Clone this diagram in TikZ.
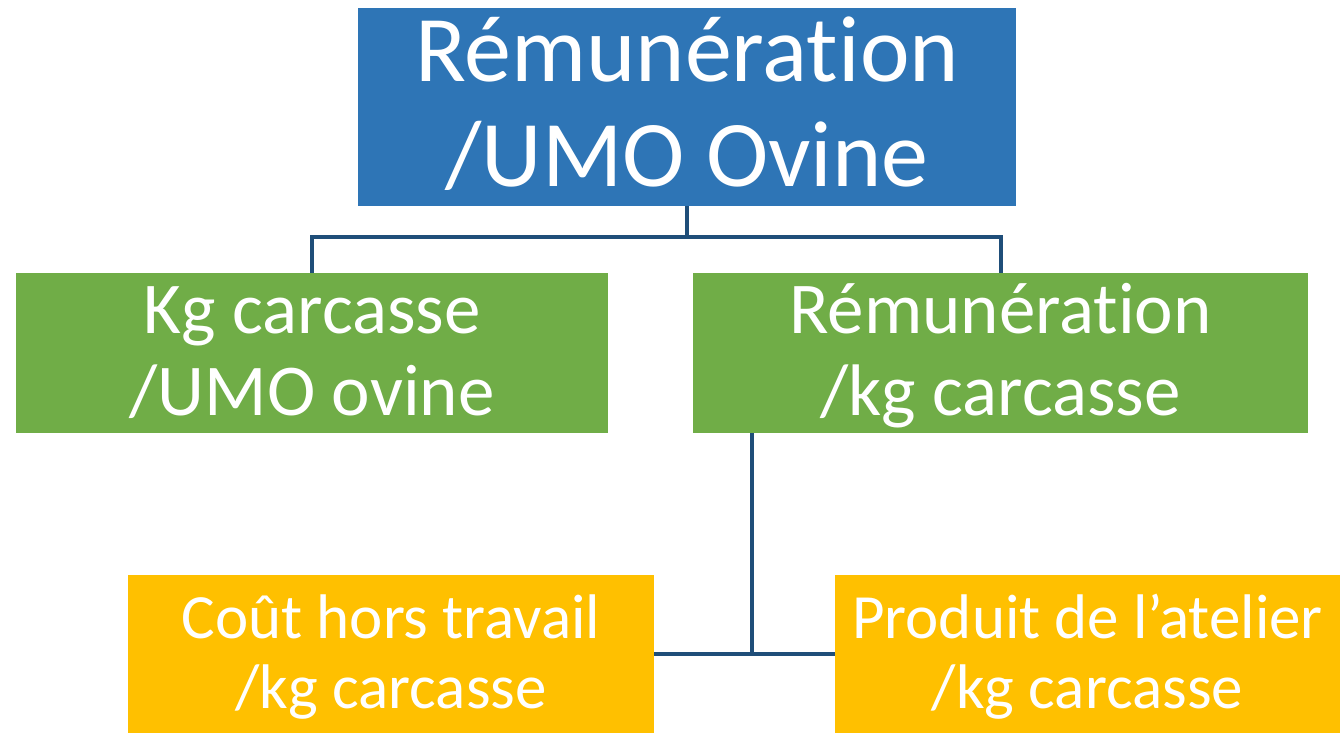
\documentclass[tikz,border=0pt]{standalone}
\usepackage{fontspec}
\setmainfont{Carlito}[Ligatures={NoCommon}]
\usetikzlibrary{positioning}

\definecolor{bleu}{HTML}{2E75B6}
\definecolor{vert}{HTML}{70AD47}
\definecolor{jaune}{HTML}{FFC000}
\definecolor{trait}{HTML}{1F4E79}
\newcommand{\haut}[1]{\rule{0pt}{#1}}
\newcommand{\bas}[1]{\rule[-#1]{0pt}{#1}}

\begin{document}
\begin{tikzpicture}[x=0.5pt, y=-0.5pt,
boite/.style={fill=#1, text=white, inner sep=0pt, align=center},
tete/.style={boite=bleu, minimum width=329pt, minimum height=99pt, font=\fontsize{47pt}{53pt}\selectfont},
milieu/.style={boite=vert, minimum height=80pt, font=\fontsize{36.5pt}{41pt}\selectfont},
feuille/.style={boite=jaune, minimum height=79pt, font=\fontsize{31.5pt}{35pt}\selectfont},
lien/.style={draw=trait, line width=2pt}
]
\useasboundingbox (0,0) rectangle (1340,733);
\node[tete] (remumo) at (687,107) {\haut{36pt}Rémunération\\/UMO Ovine\bas{9pt}};
\node[milieu, minimum width=296pt] (kgumo) at (312,353) {\haut{29pt}Kg carcasse\\/UMO ovine\bas{8pt}};
\node[milieu, minimum width=307.5pt] (remkg) at (1000.5,353) {\haut{29pt}Rémunération\\/kg carcasse\bas{8pt}};
\node[feuille, minimum width=263pt] (cout) at (391,654) {\haut{26pt}Coût hors travail\\/kg carcasse\bas{7pt}};
\node[feuille, minimum width=252.5pt] (prod) at (1087.5,654) {\haut{26pt}Produit de l’atelier\\/kg carcasse\bas{7pt}};

\coordinate (fourche) at (687,237);
\coordinate (noeud) at (752,654);

\draw[lien] (remumo.south) -- (fourche) -| (kgumo.north);
\draw[lien] (fourche) -| (remkg.north);
\draw[lien] (remkg.south -| noeud) -- (noeud);
\draw[lien] (cout.east) -- (prod.west);
\end{tikzpicture}
\end{document}
